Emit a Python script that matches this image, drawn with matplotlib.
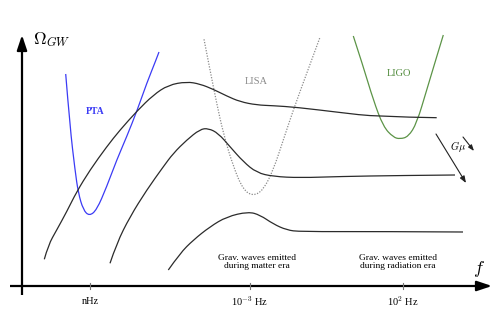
import matplotlib
matplotlib.use("Agg")
import matplotlib.pyplot as plt
from matplotlib.path import Path
from matplotlib.patches import PathPatch
import numpy as np

plt.rcParams['mathtext.fontset'] = 'cm'
SERIF = ['Liberation Serif', 'DejaVu Serif']

# Schematic curve points (horizontal position, vertical position in figure units; y grows downward)
pta_x = [65.7, 70, 75, 78.3, 83.3, 89.3, 96.7, 106.7, 116.7, 126.7, 137.3, 146.7, 156, 159]
pta_y = [74, 127, 170, 193, 210, 216, 210, 186.7, 160, 136.7, 110, 83.3, 60, 52]

lisa_x = [204, 210, 216.7, 223.3, 233.3, 243.3, 253.3, 263.3, 273.3, 283.3, 293.3, 306.7, 320]
lisa_y = [39.3, 70, 103.3, 133.3, 166.7, 190, 196, 190, 170, 140, 110, 73.3, 37.3]

ligo_x = [353.3, 363.3, 373.3, 383.3, 393.3, 400, 408.3, 416.7, 426.7, 436.7, 443.3]
ligo_y = [36, 66.7, 100, 126.7, 137.3, 139, 136.7, 123.3, 90, 56.7, 35]

c1_x = [44.3, 48.3, 56.7, 66.7, 76.7, 90, 106.7, 120, 137.3, 153.3, 168.3, 186.7, 200, 213.3,
        226.7, 240, 256.7, 273.3, 296.7, 340, 376.7, 436.7]
c1_y = [259.3, 245, 230, 211.7, 191.7, 170, 146.7, 130, 110.7, 95, 85, 81.7, 84, 89.3,
        96, 101.7, 105, 105.7, 107.3, 112.5, 116.7, 117.7]

c2_x = [110, 116.7, 130, 146.7, 163.3, 173.3, 186.7, 200, 208.3, 218.3, 230, 243.3, 256.7,
        273.3, 300, 340, 400, 455]
c2_y = [263.3, 243.3, 216.7, 190, 166.7, 153.3, 140, 129.3, 128.3, 133.3, 146.7, 161.7, 172.7,
        176.5, 177.8, 176.5, 175.5, 175]

c3_x = [168.3, 180, 193.3, 210, 226.7, 248.3, 260, 273.3, 286.7, 300, 380, 463]
c3_y = [270, 253.3, 240, 226.7, 216.7, 211.7, 215, 224, 230, 231.7, 231.5, 232]

tick_pos = [90, 250, 403]
tick_labels = ['nHz', r'10$^{-3}$ Hz', r'10$^{2}$ Hz']


def smooth_path(xs, ys):
    pts = np.column_stack([xs, ys])
    verts = [pts[0]]
    codes = [Path.MOVETO]
    for i in range(1, len(pts) - 1):
        mid = (pts[i] + pts[i + 1]) / 2
        verts += [pts[i], mid if i < len(pts) - 2 else pts[i + 1]]
        codes += [Path.CURVE3, Path.CURVE3]
    if len(pts) == 2:
        verts.append(pts[1]); codes.append(Path.LINETO)
    return Path(verts, codes)


fig = plt.figure(figsize=(4.97, 3.09), dpi=100)
ax = fig.add_axes([0, 0, 1, 1])
ax.set_xlim(0, 497)
ax.set_ylim(309, 0)
ax.axis('off')

def draw(xs, ys, color, lw=0.9, ls='-'):
    ax.add_patch(PathPatch(smooth_path(xs, ys), fill=False, edgecolor=color, lw=lw, ls=ls))

draw(pta_x, pta_y, '#3b3bf5', 0.9)
draw(lisa_x, lisa_y, '#8a8a8a', 0.9, (0, (1, 1.2)))
draw(ligo_x, ligo_y, '#5c9447', 0.9)
draw(c1_x, c1_y, '#2b2b2b', 0.9)
draw(c2_x, c2_y, '#2b2b2b', 0.9)
draw(c3_x, c3_y, '#2b2b2b', 0.9)

# axes arrows
ax.plot([22, 22], [295, 48], color='black', lw=1.6, solid_capstyle='butt')
ax.annotate('', xy=(22, 35), xytext=(22, 50),
            arrowprops=dict(arrowstyle='-|>,head_length=0.9,head_width=0.3', color='black', lw=1.6,
                            shrinkA=0, shrinkB=0))
ax.plot([10, 478], [286, 286], color='black', lw=1.6, solid_capstyle='butt')
ax.annotate('', xy=(492, 286), xytext=(476, 286),
            arrowprops=dict(arrowstyle='-|>,head_length=0.9,head_width=0.3', color='black', lw=1.6,
                            shrinkA=0, shrinkB=0))

for xp, lab in zip(tick_pos, tick_labels):
    ax.plot([xp, xp], [283, 289], color='#777777', lw=0.8)
    ax.text(xp, 301, lab, ha='center', va='center', fontsize=7.5, family=SERIF)

ax.text(33, 40, r'$\Omega_{GW}$', fontsize=12.5, ha='left', va='center')
ax.text(479, 269, r'$f$', fontsize=13, ha='center', va='center')

ax.text(95, 112, 'PTA', color='#3b3bf5', fontsize=7, family=SERIF, ha='center', va='center',
        fontweight='bold')
ax.text(256, 81, 'LISA', color='#8a8a8a', fontsize=7.5, family=SERIF, ha='center', va='center')
ax.text(399, 74, 'LIGO', color='#4f8a3a', fontsize=7.5, family=SERIF, ha='center', va='center')

ax.text(257, 262, 'Grav. waves emitted\nduring matter era', fontsize=6.8, family=SERIF,
        ha='center', va='center', linespacing=1.15)
ax.text(398, 262, 'Grav. waves emitted\nduring radiation era', fontsize=6.8, family=SERIF,
        ha='center', va='center', linespacing=1.15)

# G mu arrows
ax.annotate('', xy=(466, 183), xytext=(436, 134),
            arrowprops=dict(arrowstyle='-|>,head_length=0.4,head_width=0.15', color='#222222', lw=0.8,
                            shrinkA=0, shrinkB=0))
ax.annotate('', xy=(474, 151), xytext=(463, 137),
            arrowprops=dict(arrowstyle='-|>,head_length=0.35,head_width=0.13', color='#222222', lw=0.8,
                            shrinkA=0, shrinkB=0))
ax.text(458, 146, r'$G\mu$', fontsize=7.5, ha='center', va='center')

fig.savefig('out.png', dpi=100)
